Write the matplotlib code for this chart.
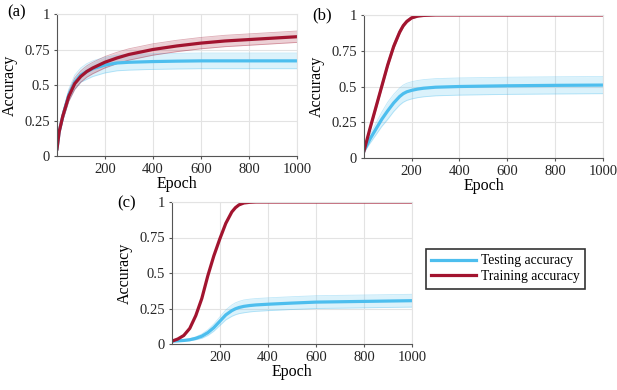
import numpy as np
import matplotlib.pyplot as plt

plt.rcParams['font.family'] = 'serif'
plt.rcParams['font.serif'] = ['Liberation Serif', 'DejaVu Serif']

# ---- data ----
# (a)
ep_a = [1, 10, 25, 50, 75, 100, 125, 150, 200, 250, 300, 400, 500, 600, 700, 800, 900, 1000]
train_a = [0.05, 0.17, 0.28, 0.42, 0.51, 0.56, 0.595, 0.62, 0.66, 0.69, 0.715, 0.75, 0.775, 0.795, 0.81, 0.82, 0.83, 0.84]
train_a_sd = [0.01, 0.02, 0.03, 0.035, 0.04, 0.04, 0.04, 0.04, 0.04, 0.04, 0.04, 0.04, 0.04, 0.04, 0.04, 0.04, 0.04, 0.04]
test_a = [0.05, 0.17, 0.28, 0.43, 0.52, 0.57, 0.595, 0.615, 0.64, 0.655, 0.66, 0.665, 0.668, 0.67, 0.67, 0.67, 0.67, 0.67]
test_a_sd = [0.01, 0.02, 0.03, 0.04, 0.05, 0.05, 0.055, 0.055, 0.055, 0.055, 0.055, 0.055, 0.055, 0.055, 0.055, 0.055, 0.055, 0.055]

# (b)
ep_b = [1, 25, 50, 75, 100, 125, 150, 165, 180, 200, 225, 250, 300, 400, 600, 800, 1000]
train_b = [0.05, 0.2, 0.35, 0.5, 0.65, 0.78, 0.88, 0.925, 0.955, 0.98, 0.992, 0.997, 1.0, 1.0, 1.0, 1.0, 1.0]
train_b_sd = [0.01, 0.015, 0.02, 0.02, 0.02, 0.02, 0.015, 0.012, 0.01, 0.008, 0.005, 0.003, 0.002, 0.002, 0.002, 0.002, 0.002]
test_b = [0.05, 0.13, 0.2, 0.27, 0.33, 0.385, 0.43, 0.45, 0.463, 0.473, 0.482, 0.488, 0.495, 0.5, 0.505, 0.508, 0.51]
test_b_sd = [0.01, 0.03, 0.04, 0.05, 0.06, 0.06, 0.06, 0.06, 0.06, 0.06, 0.06, 0.06, 0.06, 0.06, 0.06, 0.06, 0.06]

# (c)
ep_c = [1, 25, 50, 75, 100, 125, 150, 175, 200, 225, 250, 265, 280, 300, 325, 350, 400, 500, 600, 800, 1000]
train_c = [0.02, 0.035, 0.06, 0.11, 0.2, 0.32, 0.48, 0.62, 0.74, 0.85, 0.93, 0.96, 0.98, 0.993, 0.998, 1.0, 1.0, 1.0, 1.0, 1.0, 1.0]
train_c_sd = [0.003] * 21
test_c = [0.02, 0.022, 0.025, 0.03, 0.04, 0.055, 0.08, 0.115, 0.16, 0.205, 0.235, 0.248, 0.257, 0.265, 0.271, 0.275, 0.28, 0.288, 0.295, 0.3, 0.305]
test_c_sd = [0.003, 0.004, 0.005, 0.007, 0.01, 0.015, 0.02, 0.025, 0.03, 0.035, 0.04, 0.042, 0.043, 0.045, 0.045, 0.045, 0.045, 0.045, 0.045, 0.045, 0.045]

blue = '#4DBEEE'
red = '#A2142F'

W, H = 617, 390
fig = plt.figure(figsize=(W / 100, H / 100), dpi=100)


def px_axes(x0, y0, x1, y1):
    return fig.add_axes([x0 / W, 1 - y1 / H, (x1 - x0) / W, (y1 - y0) / H])


def panel(ax, ep, tr, tr_sd, te, te_sd, label, lx, ly):
    ep = np.array(ep)
    for m, s, c in [(te, te_sd, blue), (tr, tr_sd, red)]:
        m = np.array(m)
        s = np.array(s)
        ax.fill_between(ep, m - s, m + s, color=c, alpha=0.2, lw=0)
        ax.plot(ep, m - s, color=c, alpha=0.35, lw=0.6)
        ax.plot(ep, m + s, color=c, alpha=0.35, lw=0.6)
    l1, = ax.plot(ep, te, color=blue, lw=2.3, label='Testing accuracy')
    l2, = ax.plot(ep, tr, color=red, lw=2.3, label='Training accuracy')
    ax.set_xlim(1, 1000)
    ax.set_ylim(0, 1)
    ax.set_xticks([200, 400, 600, 800, 1000])
    ax.set_yticks([0, 0.25, 0.5, 0.75, 1])
    ax.set_yticklabels(['0', '0.25', '0.5', '0.75', '1'])
    ax.grid(True, color='#e3e3e3', lw=0.8)
    ax.set_axisbelow(True)
    for s in ['top', 'right']:
        ax.spines[s].set_color('#e3e3e3')
    for s in ['left', 'bottom']:
        ax.spines[s].set_color('#555555')
    ax.tick_params(length=2, width=0.8, direction='out', pad=3, colors='#262626', labelsize=10.5)
    ax.tick_params(color='#555555')
    ax.set_xlabel('Epoch', fontsize=11.5, labelpad=0)
    ax.set_ylabel('Accuracy', fontsize=11.5, labelpad=5)
    fig.text(lx / W, 1 - ly / H, label, fontsize=12, va='center', ha='left')
    return l1, l2


ax_a = px_axes(57, 14, 297, 156)
panel(ax_a, ep_a, train_a, train_a_sd, test_a, test_a_sd, '(a)', 7, 12)

ax_b = px_axes(364, 15, 603, 158)
panel(ax_b, ep_b, train_b, train_b_sd, test_b, test_b_sd, '(b)', 312, 15)

ax_c = px_axes(172, 202, 412, 344)
l1, l2 = panel(ax_c, ep_c, train_c, train_c_sd, test_c, test_c_sd, '(c)', 117, 203)

leg = fig.legend(handles=[l1, l2], loc='upper left',
                 bbox_to_anchor=(426 / W, 1 - 249 / H), fontsize=9.8,
                 frameon=True, fancybox=False, edgecolor='black',
                 handlelength=3.3, borderpad=0.4, labelspacing=0.2,
                 handletextpad=0.35, borderaxespad=0)
leg.get_frame().set_linewidth(1.2)

fig.savefig('out.png', dpi=100)
